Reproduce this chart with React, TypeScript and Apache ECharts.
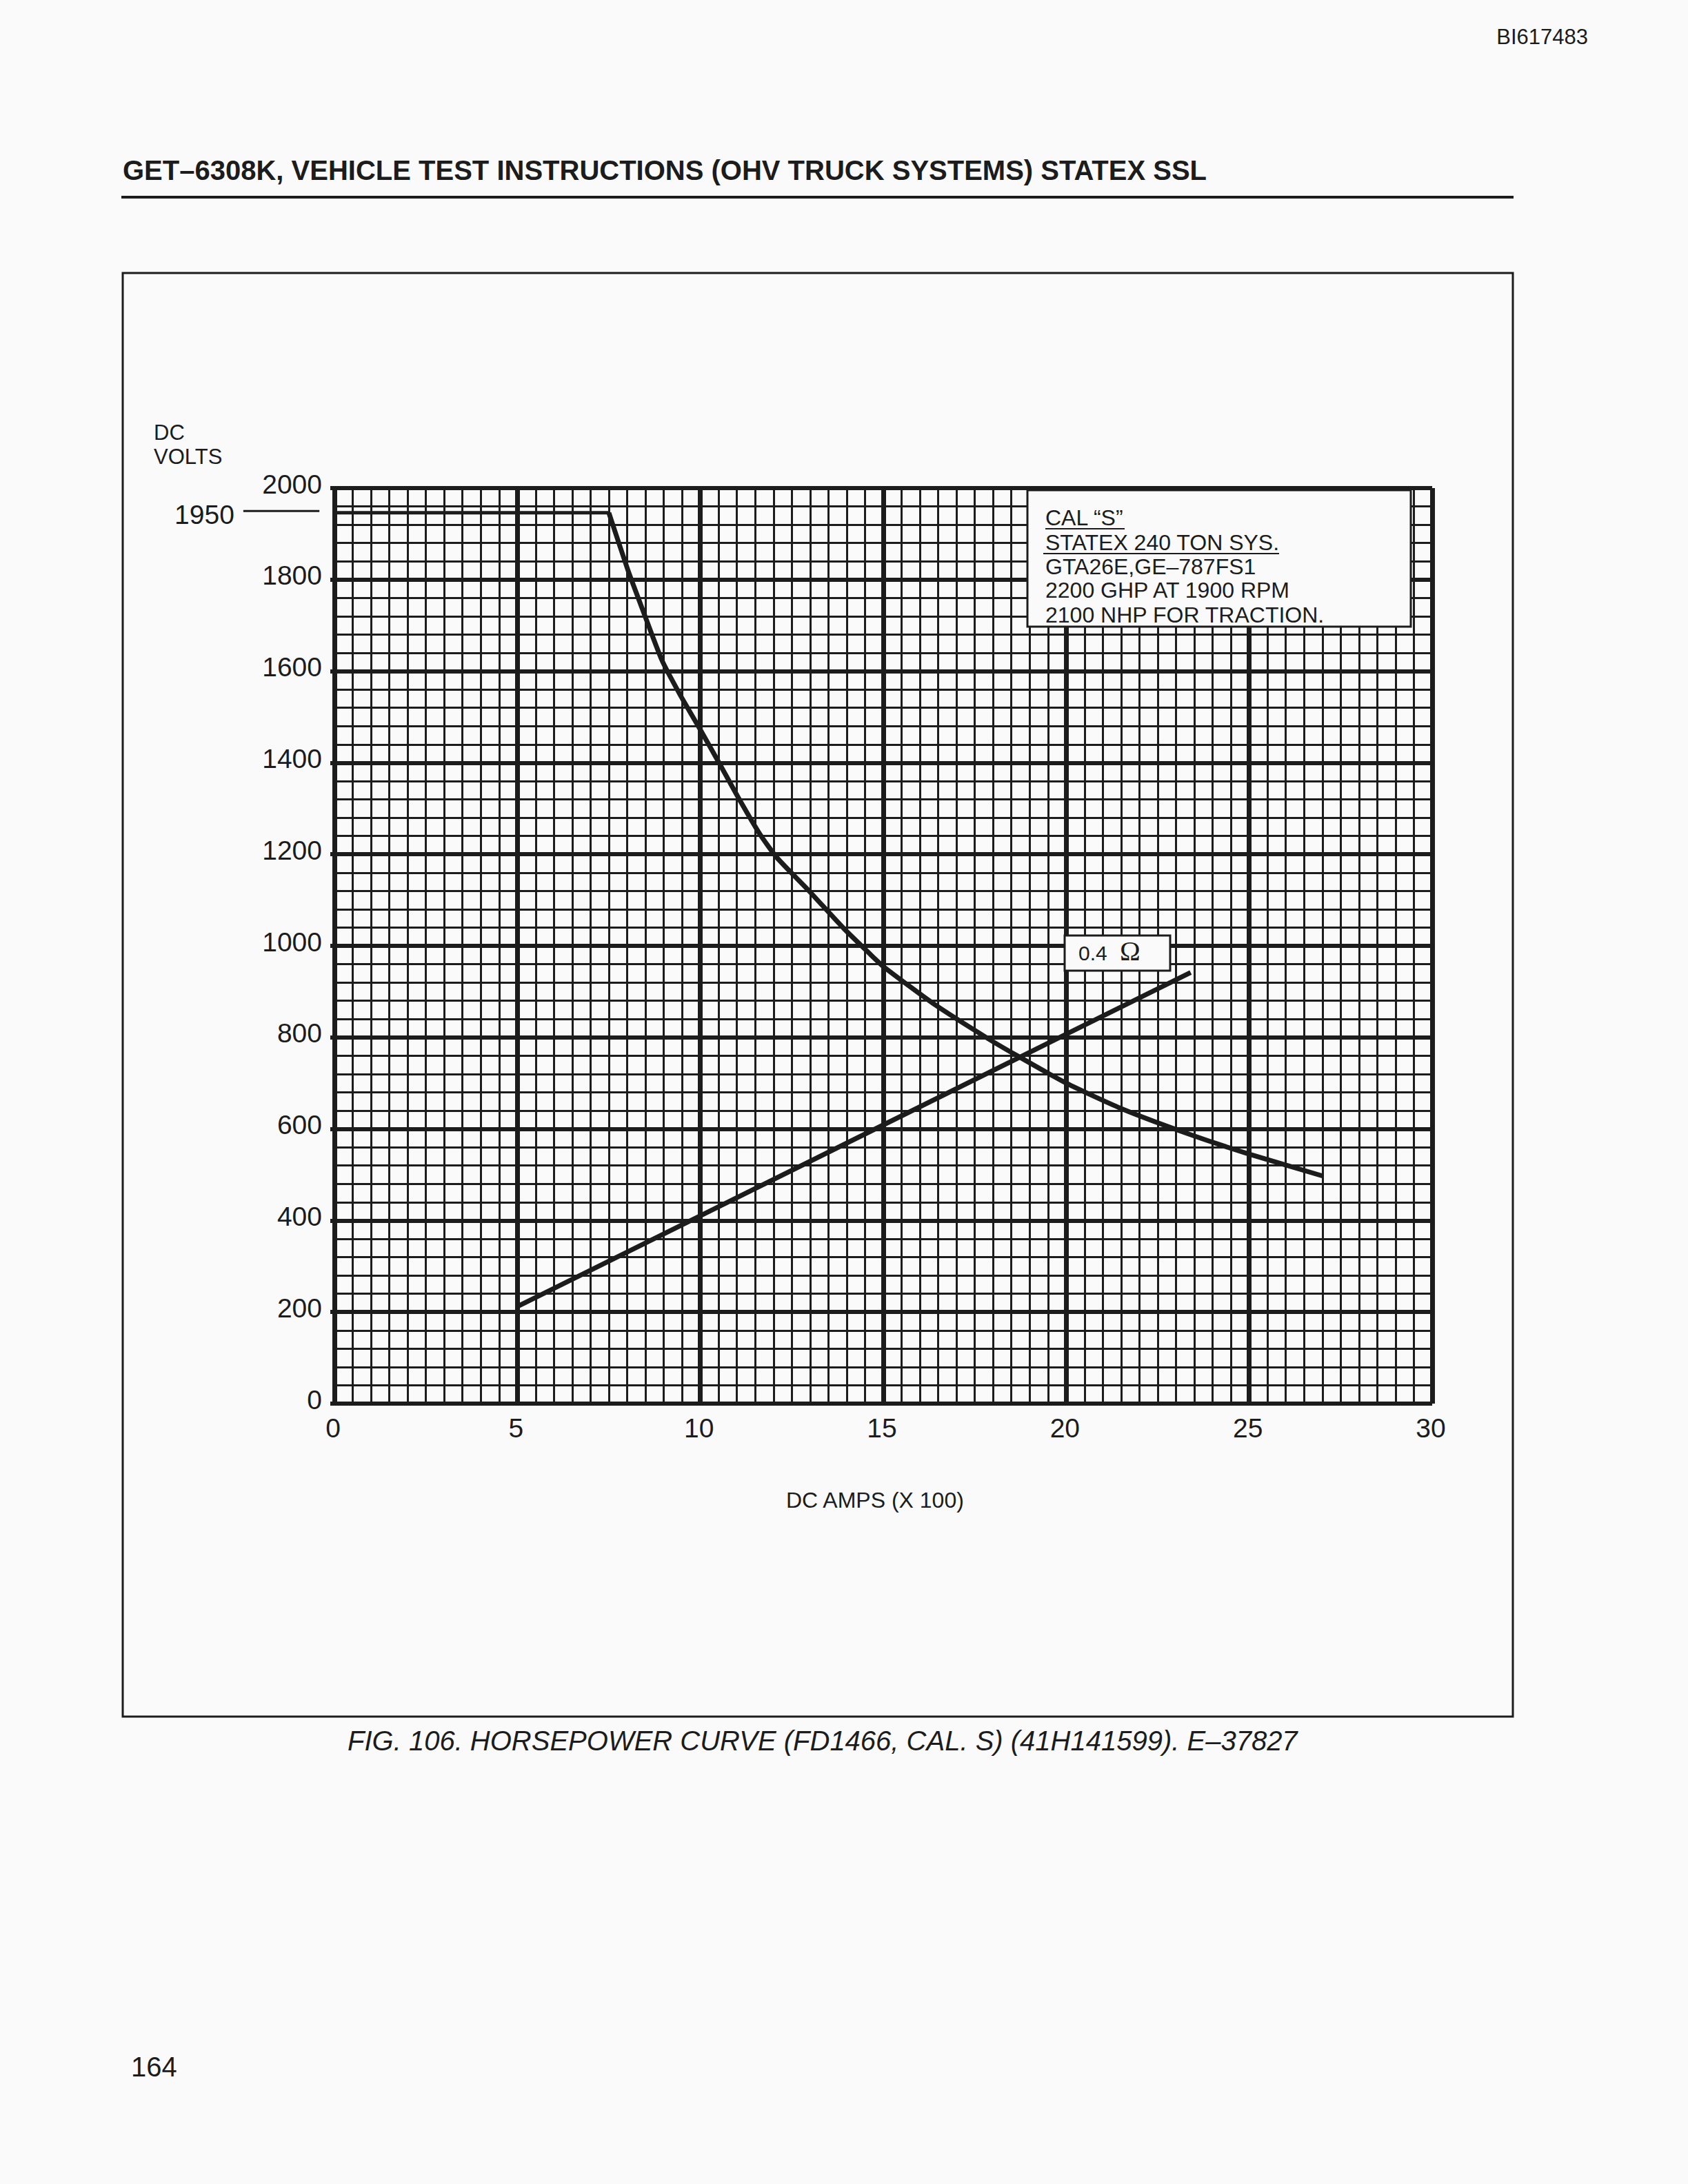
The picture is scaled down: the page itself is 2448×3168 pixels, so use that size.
import React, { useEffect, useRef } from 'react';
import * as echarts from 'echarts';

const PAPER = '#fafafa';
const INK = '#1c1c1c';
const SANS = '"Liberation Sans", Arial, sans-serif';

// constant voltage part of the horsepower curve
const flatAmps = [0, 7.5];
const flatVolts = [1946, 1946];

// horsepower curve
const hpAmps = [7.5, 8.02, 8.42, 8.95, 9.45, 10, 10.49, 11.03, 11.62, 12.09, 12.97, 13.92, 14.6, 15, 16.42, 17.91, 18.66, 20, 21.49, 23.31, 25, 27.02];
const hpVolts = [1946, 1821, 1735, 1624, 1548, 1472, 1403, 1325, 1245, 1193, 1120, 1038, 985, 955, 871, 795, 760, 700, 645, 590, 545, 497];

// 0.4 ohm load line
const loadAmps = [5, 23.4];
const loadVolts = [212, 942];

// leader from the 1950 label towards the axis
const leaderAmps = [-2.49, -0.41];
const leaderVolts = [1950, 1950];

const legendLines = ['CAL “S”', 'STATEX 240 TON SYS.', 'GTA26E,GE–787FS1', '2200 GHP AT 1900 RPM', '2100 NHP FOR TRACTION.'];
const legendBaselines = [762, 798, 833, 867, 903];

const zip = (xs: number[], ys: number[]) => xs.map((x, i) => [x, ys[i]]);

// text placed by its baseline
const label = (text: string, x: number, baseline: number, size: number, extra: any = {}) => ({
  type: 'text',
  z: 120,
  style: {
    text,
    x,
    y: baseline - size * 0.35,
    fontSize: size,
    fontFamily: SANS,
    fill: INK,
    verticalAlign: 'middle',
    ...extra,
  },
});

const rule = (x1: number, y1: number, x2: number, y2: number, lineWidth = 3) => ({
  type: 'line',
  z: 120,
  shape: { x1, y1, x2, y2 },
  style: { stroke: INK, lineWidth },
});

export default function App() {
  const chartRef = useRef<HTMLDivElement | null>(null);

  useEffect(() => {
    document.body.style.margin = '0';
    document.body.style.background = PAPER;
    if (!chartRef.current) return;
    const chart = echarts.init(chartRef.current, null, { renderer: 'svg' });

    const option = {
      animation: false,
      backgroundColor: PAPER,
      grid: { left: 485, top: 708, width: 1592, height: 1328, containLabel: false },
      xAxis: {
        type: 'value',
        min: 0,
        max: 30,
        interval: 5,
        axisLine: { show: false },
        axisTick: { show: false },
        axisLabel: { color: INK, fontSize: 39, fontFamily: SANS, margin: 16, padding: [0, 4, 0, 0] },
        splitLine: { show: true, lineStyle: { color: INK, width: 7 } },
        minorTick: { show: false, splitNumber: 10 },
        minorSplitLine: { show: true, lineStyle: { color: INK, width: 3 } },
      },
      yAxis: {
        type: 'value',
        min: 0,
        max: 2000,
        interval: 200,
        axisLine: { show: false },
        axisTick: { show: true, length: 6, lineStyle: { color: INK, width: 6 } },
        axisLabel: {
          color: INK,
          fontSize: 39,
          fontFamily: SANS,
          margin: 18,
          // labels sit a little above their grid lines in the original
          verticalAlign: 'bottom',
          lineHeight: 12,
          formatter: (v: number) => String(v),
        },
        splitLine: { show: true, lineStyle: { color: INK, width: 6 } },
        minorTick: { show: false, splitNumber: 5 },
        minorSplitLine: { show: true, lineStyle: { color: INK, width: 3 } },
      },
      series: [
        {
          name: 'Constant voltage',
          type: 'line',
          data: zip(flatAmps, flatVolts),
          showSymbol: false,
          lineStyle: { color: INK, width: 5 },
          z: 5,
        },
        {
          name: 'Horsepower',
          type: 'line',
          data: zip(hpAmps, hpVolts),
          showSymbol: false,
          smooth: 0.2,
          lineStyle: { color: INK, width: 7, join: 'round' },
          z: 5,
        },
        {
          name: '0.4 ohm',
          type: 'line',
          data: zip(loadAmps, loadVolts),
          showSymbol: false,
          lineStyle: { color: INK, width: 7 },
          z: 5,
        },
      ],
    };

    chart.setOption(option);

    // the leader sits outside the grid, so it goes through the axis scales by hand
    const [leaderX1, leaderY] = chart.convertToPixel({ gridIndex: 0 }, [leaderAmps[0], leaderVolts[0]]) as number[];
    const [leaderX2] = chart.convertToPixel({ gridIndex: 0 }, [leaderAmps[1], leaderVolts[1]]) as number[];

    chart.setOption({
      graphic: {
        elements: [
          label('BI617483', 2303, 64, 31, { textAlign: 'right' }),
          label('GET–6308K, VEHICLE TEST INSTRUCTIONS (OHV TRUCK SYSTEMS) STATEX SSL', 178, 261, 40, { fontWeight: 'bold' }),
          rule(176, 286, 2195, 286, 4),
          {
            type: 'rect',
            z: 90,
            shape: { x: 178, y: 396, width: 2016, height: 2094 },
            style: { fill: 'none', stroke: INK, lineWidth: 3 },
          },
          label('DC', 223, 638, 31),
          label('VOLTS', 223, 673, 31),
          rule(leaderX1, leaderY, leaderX2, leaderY, 3),
          label('1950', leaderX1 - 13, leaderY + 19, 39, { textAlign: 'right' }),
          label('DC AMPS (X 100)', 1140, 2187, 32),
          {
            type: 'rect',
            z: 110,
            shape: { x: 1490, y: 711, width: 556, height: 198 },
            style: { fill: PAPER, stroke: INK, lineWidth: 3 },
          },
          ...legendLines.map((text, i) => label(text, 1516, legendBaselines[i], 32)),
          rule(1516, 767, 1631, 767, 2),
          rule(1513, 803, 1855, 803, 2),
          {
            type: 'rect',
            z: 110,
            shape: { x: 1544, y: 1357, width: 153, height: 51 },
            style: { fill: PAPER, stroke: INK, lineWidth: 3 },
          },
          label('0.4', 1564, 1393, 30),
          label('Ω', 1624, 1393, 40, { fontFamily: '"Liberation Serif", serif' }),
          label('FIG. 106. HORSEPOWER CURVE (FD1466, CAL. S) (41H141599). E–37827', 504, 2539, 40, { fontStyle: 'italic' }),
          label('164', 190, 3012, 40),
        ],
      },
    });

    return () => {
      chart.dispose();
    };
  }, []);

  return <div ref={chartRef} style={{ position: 'absolute', left: 0, top: 0, width: 2448, height: 3168 }}></div>;
}
